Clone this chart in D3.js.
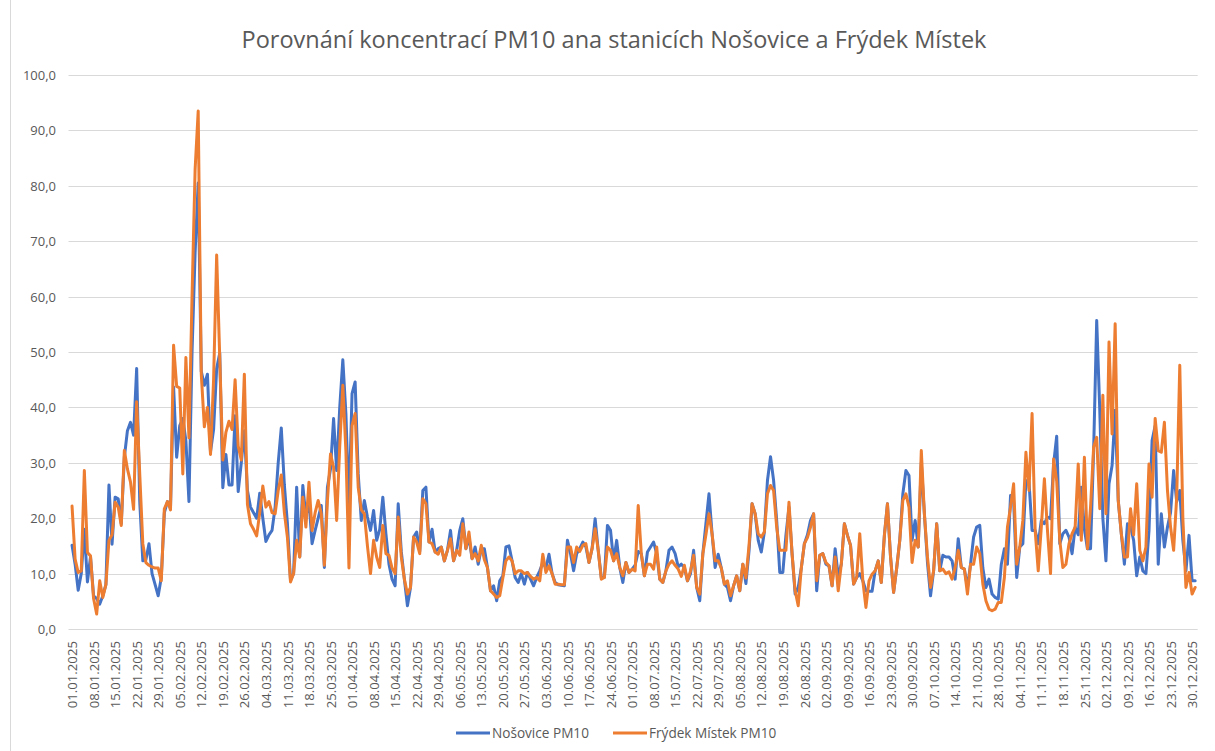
<!DOCTYPE html>
<html>
<head>
<meta charset="utf-8">
<script src="https://cdn.jsdelivr.net/npm/d3@7"></script>
<style>
  html, body { margin: 0; padding: 0; background: #ffffff; }
  svg { display: block; }
  text { font-family: "Open Sans", "Noto Sans", sans-serif; fill: #595959; }
</style>
</head>
<body>
<svg id="chart" width="1215" height="751"></svg>
<script>
// ---------------- DATA ----------------
const chartTitle = "Porovnání koncentrací PM10 ana stanicích Nošovice a Frýdek Místek";
const seriesNames = ["Nošovice PM10", "Frýdek Místek PM10"];
const startDate = "2025-01-01";
const endDate = "2025-12-31";
// the source table carries an extra text category "29.02.2025" after 28.02.2025
const extraCategory = { after: "28.02.2025", label: "29.02.2025" };
const yTicks = [0, 10, 20, 30, 40, 50, 60, 70, 80, 90, 100];

// Daily PM10 values, Nošovice (blue)
const nosovice = [
15.1,11.7,7,10,18,8.5,13,6,5.5,4.5,6,8,26,15.3,23.8,23.5,19,31,35.8,37.3,
35,47,23,12.3,12.5,15.4,10,8,6,9.3,21,23,22,43.7,31,36.7,38,34,23,50,
68,80.5,46.5,44,46,32,36,47,49.8,25.5,31.5,26,26,38.5,24.8,30,35.8,25,22,21,20,
24.5,20,15.8,17,17.8,22,30,36.3,26,19,8.8,10,25.6,13,25.9,20.2,23.2,15.4,17.8,20,
22.3,11.1,25.6,28.9,38,28.6,40,48.6,38.9,22,42.5,44.6,28,19.6,23.2,20.2,17.8,21.4,16,18,
23.8,17.2,11.7,9,7.8,22.6,14,9,4.2,7.5,16.6,17.5,14,25,25.6,15.7,18,13.9,14.5,14.8,
12.3,14.2,17.8,12.3,14.2,17.8,19.9,14.5,16.5,12.7,14.8,11.7,14.5,14.5,11.1,6.9,7.8,5.1,8.7,9.6,
14.8,15,12.3,9.3,8.4,10,8.1,10.2,9,7.8,9.3,10.5,12,11,13.5,10,8.4,8,7.9,7.8,
16,13.6,10.5,13.6,14.5,15.7,14.8,12,14.5,19.9,14.2,9.3,9.3,18.7,17.8,12.3,16,11.1,8.4,12,
10.2,10.8,11.5,14,13.6,9.6,13.9,14.8,15.7,13.6,9,8.4,10.5,14.2,14.8,13.6,11.2,11.7,11.1,8.7,
10,14.2,7.5,5.1,13.6,19,24.4,17.2,11.1,13.5,11,8.1,7.5,5.1,7.8,9.6,6.9,11.7,8.2,14,
22.6,20.8,16,13.9,17.5,26.8,31.1,26.8,19.6,10.2,10.2,16.9,22,13.6,6.3,7.5,11,15.4,17,19.6,
20.8,6.9,13.3,13.6,11.7,11.4,7.8,14.5,9.5,11.7,19,16.9,15.1,8.1,9.3,10,8.7,6.9,6.8,6.8,
10.5,12.3,8.4,16.9,22.6,13,6.6,11,16,24.4,28.6,27.7,16,19.6,14.8,30,20.8,12,6,10.5,
19,10.5,13.3,13,13,12.3,9,16.3,11.1,10.8,7.5,11.7,16.6,18.4,18.7,11,7.5,9,6.3,5.7,
5.4,11.7,14.5,11.7,24.1,23.2,9.3,14.8,15.4,26.8,26.5,17.8,17.8,15.4,19.6,19,20.2,19.9,29.8,34.8,
15.4,17.2,17.8,16.6,13.6,18.4,17,25.6,18,14.5,14.5,32.2,55.7,39.5,20,12.3,26.2,29.5,39.5,23.2,
17.2,11.7,19,18.5,16,9.6,13,10.5,10,17.8,34,36.7,11.7,20.8,14.8,18.4,21,28.6,23,25,
16,10.5,16.9,8.7,8.7
];

// Daily PM10 values, Frýdek Místek (orange)
const frydek = [
22.2,12.6,10.2,10.5,28.6,13.8,13.2,5.5,2.7,8.7,5.7,8,16,17,22.9,22,18.7,32.2,28.9,26.5,
21.6,41,28,15.4,12,11.5,11.2,11,11,8.7,21.7,23,21.5,51.2,43.8,43.5,28,49,34.5,60,
83,93.5,46,36.5,40,31.5,45,67.5,49,30.5,35.5,37.5,36,45,33,30.5,46,22.5,19,18,16.8,
21,25.8,22,23,21,20.8,25,27.8,21,16.5,8.5,10,16,13,23.8,18.4,26.5,17.8,21,23.2,
20.8,11.5,23.2,31.6,29.2,19.6,33,44,32.2,11,36.7,38.9,25.6,21.5,20.8,15,10,16,13,11.1,
18.7,13.6,13.3,11,10,20.2,13,9,6.3,7.5,16.6,15.7,13.6,23.5,22.6,15.7,15.4,13.9,13.5,14.8,
12.3,14.2,16.3,12.3,14.2,13.3,19,14.5,17.5,12.7,13.6,12.3,15.1,12.5,11.1,6.9,6.3,5.7,6,9.2,
12.3,13,12.3,10,10.5,10.5,10,10.2,9.5,9,9.3,8.7,13.5,10.2,11.4,10,8.1,8.1,8,8,
14.8,14.8,12,14.8,14,15.1,15.4,12,14.5,18.1,14.2,9,9.3,14.8,14.2,12.3,13.6,11.1,9.6,12,
10.2,10.8,10.5,22.3,13.6,9.6,11.7,11.7,10.8,14.8,9,8.4,10.5,11.7,12.3,11.5,10.8,9.5,11.5,8.7,
10.5,13.3,7.5,6.3,13.6,17,20.8,17.2,12.3,12.3,11,8.1,8.7,6,7.8,9.6,6.9,11.7,9.2,15,
22.6,20.8,17.2,16.6,17.5,24.4,25.9,25,18.4,14.2,14.2,14.2,22.9,13.6,6.9,4.2,11,15.4,16.5,18.4,
20.8,8.7,13.3,13.6,12,11.4,7.8,13,6.9,11.7,19,16.9,15.1,8.1,9.3,17.2,8.7,3.9,8.7,9.9,
10.5,12.3,8.4,16.9,22.6,13,6.6,11,16,23.2,24.4,22,12,16,14.8,32.2,20.8,13,7.5,10.5,
19,10.5,10.8,10,10.3,9,11.1,14.2,11.1,10.8,6.3,11.7,11.7,14.8,13.6,8.1,5.1,3.6,3.3,3.6,
4.8,4.8,9.3,18.4,22,26.2,11.7,14.8,19.6,31.9,25,38.9,17.8,10.5,18.4,27.1,17.8,10,30.7,26.7,
16,11.1,11.7,15.4,17.2,18.4,29.8,16,31,14.5,22,32.8,34.6,21.7,42.2,20.8,51.8,35.2,55.1,23.2,
17.2,13,13,21.7,17,26.2,14.2,12.3,14.8,29.8,23.8,38,32.2,31.9,37.3,25,18.4,14.2,23.8,47.6,
20,7.5,10.2,6.3,7.5
];

// ---------------- CHART ----------------
const W = 1215, H = 751;
const plot = { left: 70.5, right: 1196.7, top: 75, bottom: 629 };
const svg = d3.select("#chart");

const parse = d3.timeParse("%Y-%m-%d");
const fmtDate = d3.timeFormat("%d.%m.%Y");
const days = d3.timeDay.range(parse(startDate), d3.timeDay.offset(parse(endDate), 1));
const categories = [];
days.map(fmtDate).forEach(c => {
  categories.push(c);
  if (c === extraCategory.after) categories.push(extraCategory.label);
});
const tickLabels = categories.filter((d, i) => i % 7 === 0);

const x = d3.scalePoint().domain(categories).range([plot.left, plot.right]).padding(0.5);
const y = d3.scaleLinear().domain([0, 100]).range([plot.bottom, plot.top]);

const locale = d3.formatLocale({ decimal: ",", thousands: " ", grouping: [3], currency: ["", ""] });
const fmtY = locale.format(".1f");

// chart frame
svg.append("rect").attr("x", 10.5).attr("y", -2).attr("width", W + 10).attr("height", H + 10)
  .attr("fill", "none").attr("stroke", "#D9D9D9").attr("stroke-width", 1);

// gridlines
svg.append("g").selectAll("line").data(yTicks).join("line")
  .attr("x1", plot.left - 2).attr("x2", plot.right + 1)
  .attr("y1", d => Math.round(y(d)) + 0.5).attr("y2", d => Math.round(y(d)) + 0.5)
  .attr("stroke", "#D9D9D9").attr("stroke-width", 1);

// y axis labels
const yAxis = d3.axisLeft(y).tickValues(yTicks).tickFormat(fmtY).tickSize(0).tickPadding(0);
svg.append("g").attr("transform", `translate(${56},0)`).call(yAxis)
  .call(g => g.select(".domain").remove())
  .call(g => g.selectAll("text").attr("font-size", 13).attr("fill", "#595959")
    .style("font-family", "'Open Sans', sans-serif").attr("x", 0).attr("dy", "0.35em"));

// x axis labels (rotated)
const xAxis = d3.axisBottom(x).tickValues(tickLabels).tickSize(0).tickPadding(0);
svg.append("g").attr("transform", `translate(0,${plot.bottom})`).call(xAxis)
  .call(g => g.select(".domain").remove())
  .call(g => g.selectAll("text")
    .attr("font-size", 13.2).attr("fill", "#595959")
    .style("font-family", "'Open Sans', sans-serif")
    .attr("text-anchor", "end")
    .attr("transform", "rotate(-90)")
    .attr("x", -12).attr("y", 0).attr("dy", "0.35em"));

// lines
const line = d3.line().x((d, i) => x(categories[i])).y(d => y(d)).curve(d3.curveLinear);
svg.append("path").datum(nosovice).attr("d", line)
  .attr("fill", "none").attr("stroke", "#4472C4").attr("stroke-width", 3)
  .attr("stroke-linejoin", "round").attr("stroke-linecap", "round");
svg.append("path").datum(frydek).attr("d", line)
  .attr("fill", "none").attr("stroke", "#ED7D31").attr("stroke-width", 3)
  .attr("stroke-linejoin", "round").attr("stroke-linecap", "round");

// title
svg.append("text").attr("x", 614).attr("y", 48).attr("text-anchor", "middle")
  .attr("font-size", 23.5).attr("fill", "#595959").text(chartTitle);

// legend
const legend = [
  { name: seriesNames[0], color: "#4472C4", x: 456 },
  { name: seriesNames[1], color: "#ED7D31", x: 613 }
];
const lg = svg.append("g");
legend.forEach(l => {
  lg.append("line").attr("x1", l.x).attr("x2", l.x + 34).attr("y1", 733).attr("y2", 733)
    .attr("stroke", l.color).attr("stroke-width", 3);
  lg.append("text").attr("x", l.x + 36).attr("y", 733).attr("dy", "0.35em")
    .attr("font-size", 13.6).attr("fill", "#595959").text(l.name);
});
</script>
</body>
</html>
